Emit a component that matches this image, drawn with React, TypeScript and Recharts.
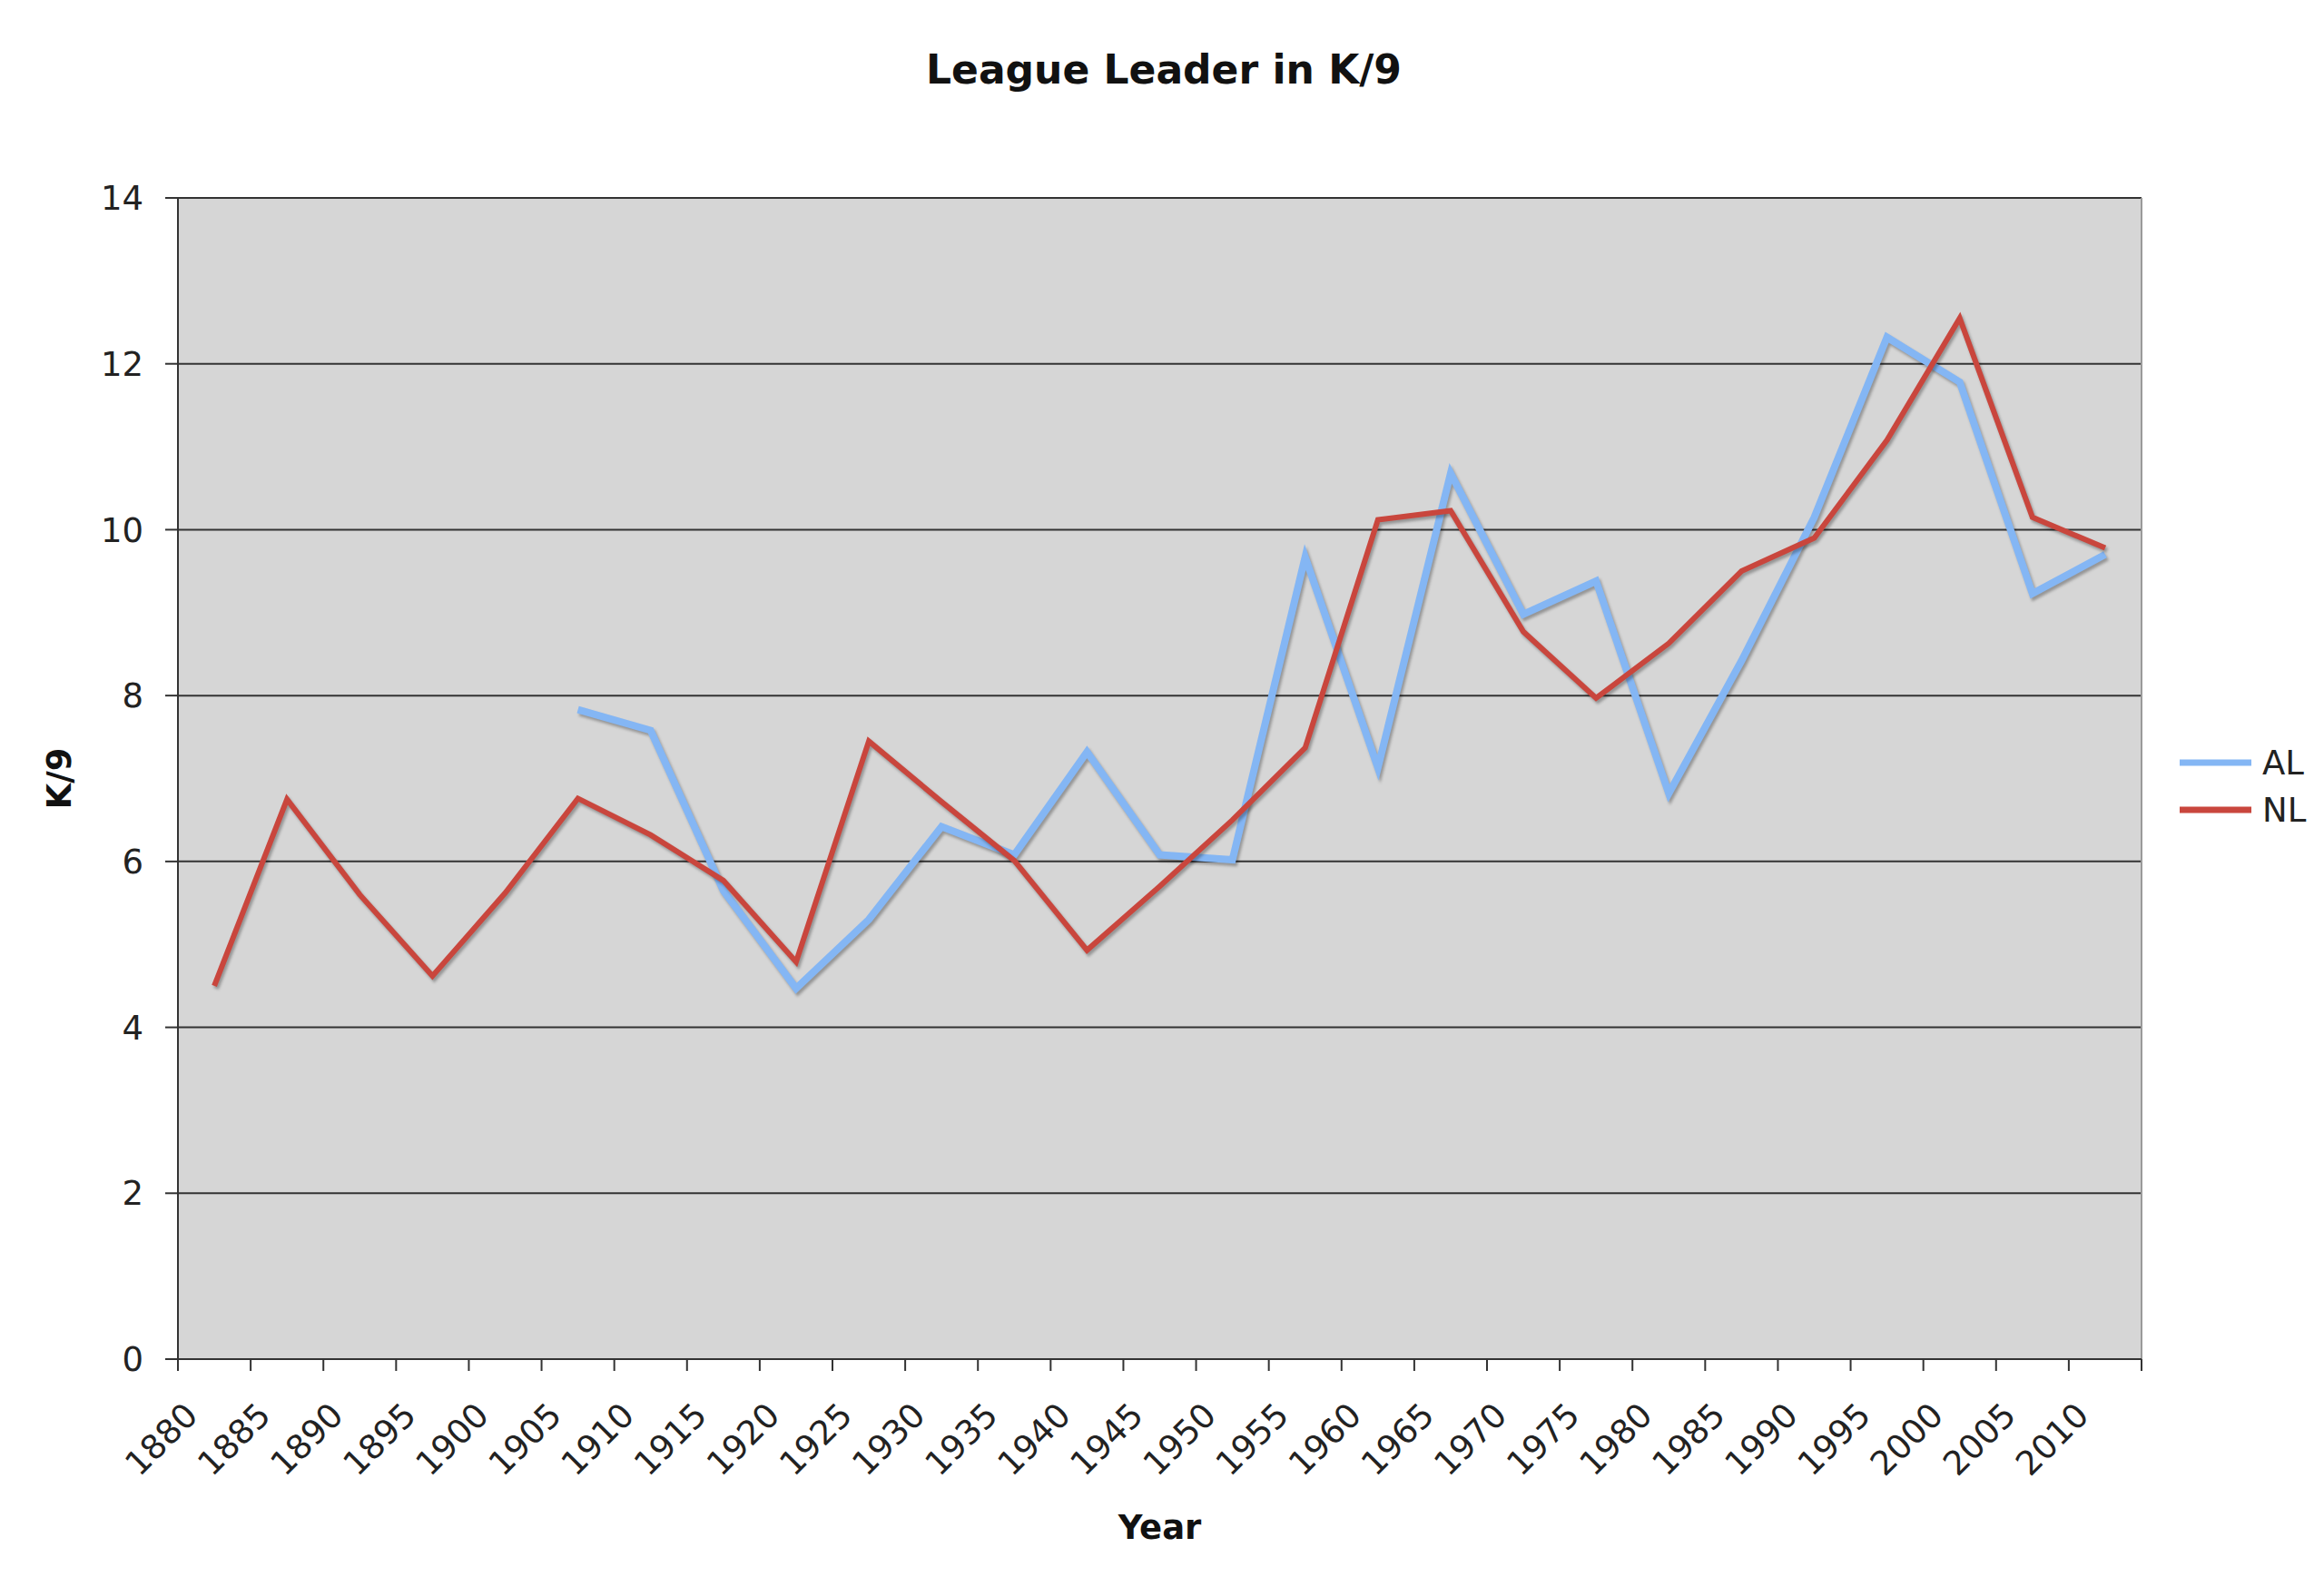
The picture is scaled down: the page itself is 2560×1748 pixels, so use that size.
import React from 'react';
import { LineChart, Line, XAxis, YAxis, CartesianGrid, Legend, ReferenceLine } from 'recharts';

// five-year periods, the value is plotted in the middle of each period
const periods = [
  1880, 1885, 1890, 1895, 1900, 1905, 1910, 1915, 1920, 1925, 1930, 1935, 1940, 1945,
  1950, 1955, 1960, 1965, 1970, 1975, 1980, 1985, 1990, 1995, 2000, 2005, 2010,
];
const alK9 = [
  null, null, null, null, null, 7.83, 7.58, 5.65, 4.47, 5.3, 6.42, 6.08, 7.32, 6.08,
  6.02, 9.67, 7.13, 10.68, 8.98, 9.38, 6.82, 8.42, 10.15, 12.32, 11.78, 9.23, 9.7,
];
const nlK9 = [
  4.5, 6.75, 5.6, 4.62, 5.62, 6.76, 6.32, 5.77, 4.79, 7.45, 6.72, 6.01, 4.93, 5.7,
  6.5, 7.37, 10.12, 10.23, 8.77, 7.97, 8.63, 9.5, 9.9, 11.08, 12.55, 10.15, 9.78,
];
const yTicks = [0, 2, 4, 6, 8, 10, 12, 14];
const xTicks = [...periods, 2015];

const PERIOD = 5;
const FONT = '"DejaVu Sans", Verdana, sans-serif';
const AL_COLOR = '#84b6f4';
const NL_COLOR = '#c9463d';
const INK = '#222';

const data = periods.map((p, i) => ({ mid: p + PERIOD / 2, AL: alK9[i], NL: nlK9[i] }));

function YearTick(props: any) {
  const { x, y, payload } = props;
  if (payload.value === 2015) return null;
  const ax = x + 24;
  const ay = y + 51;
  return (
    <text x={ax} y={ay} textAnchor="end" transform={`rotate(-45, ${ax}, ${ay})`}
      fontSize={37} fill={INK} fontFamily={FONT}>
      {payload.value}
    </text>
  );
}

function LegendBox(props: any) {
  const items = props.payload || [];
  return (
    <svg width={200} height={130}>
      {items.map((item: any, i: number) => (
        <g key={item.value}>
          <line x1={41} x2={120} y1={50 + i * 52} y2={50 + i * 52} stroke={item.color} strokeWidth={7} />
          <text x={132} y={50 + i * 52} dy="0.36em" fontSize={37} fill={INK} fontFamily={FONT}>{item.value}</text>
        </g>
      ))}
    </svg>
  );
}

export default function App() {
  return (
    <div style={{ position: 'absolute', left: 0, top: 0, width: 2560, height: 1748, background: '#fff' }}>
      <style>{`.recharts-line-curve { filter: drop-shadow(2px 3px 1.5px rgba(0,0,0,0.3)); }`}</style>
      <LineChart width={2560} height={1748} data={data} margin={{ top: 218, right: 201, bottom: 31, left: 0 }}>
        <text x={1282} y={92} textAnchor="middle" fontSize={44} fontWeight="bold" fill="#111" fontFamily={FONT}>
          League Leader in K/9
        </text>
        <CartesianGrid vertical={false} fill="#d6d6d6" stroke="#333" strokeWidth={2} />
        <XAxis type="number" dataKey="mid" domain={[1880, 2015]} ticks={xTicks} interval={0}
          height={220} tickSize={13} tickMargin={0} tick={YearTick}
          axisLine={{ stroke: '#333', strokeWidth: 2 }} tickLine={{ stroke: '#333', strokeWidth: 2 }}
          label={{ value: 'Year', position: 'insideBottom', offset: 22, fontSize: 37, fontWeight: 'bold', fill: '#111', fontFamily: FONT }} />
        <YAxis domain={[0, 14]} ticks={yTicks} interval={0} width={196} tickSize={14} tickMargin={24}
          tick={{ fontSize: 37, fill: INK, fontFamily: FONT }}
          axisLine={{ stroke: '#333', strokeWidth: 2 }} tickLine={{ stroke: '#333', strokeWidth: 2 }}
          label={{ value: 'K/9', angle: -90, position: 'center', dx: -33, fontSize: 37, fontWeight: 'bold', fill: '#111', fontFamily: FONT }} />
        <ReferenceLine x={2015} stroke="#9a9a9a" strokeWidth={2} />
        <Legend layout="vertical" align="center" verticalAlign="middle" content={LegendBox}
          wrapperStyle={{ left: 2360, top: 790, width: 200, height: 130 }} />
        <Line type="linear" dataKey="AL" name="AL" stroke={AL_COLOR} strokeWidth={8} dot={false}
          activeDot={false} isAnimationActive={false} />
        <Line type="linear" dataKey="NL" name="NL" stroke={NL_COLOR} strokeWidth={6} dot={false}
          activeDot={false} isAnimationActive={false} />
      </LineChart>
    </div>
  );
}
